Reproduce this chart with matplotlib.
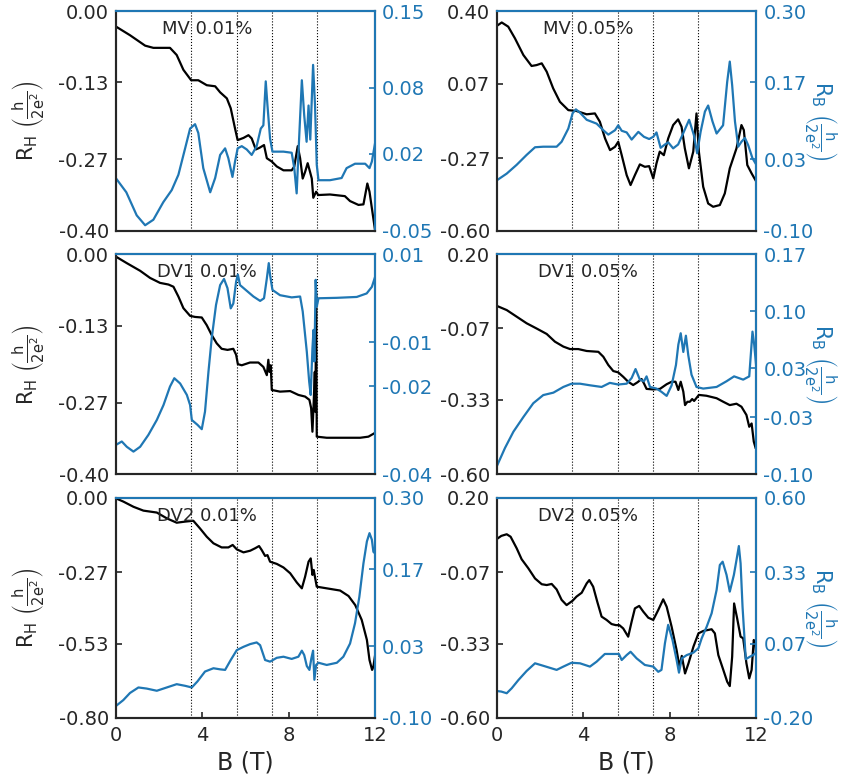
import numpy as np
import matplotlib
matplotlib.use("Agg")
import matplotlib.pyplot as plt

plt.rcParams["font.family"] = ["DejaVu Sans"]
plt.rcParams["mathtext.default"] = "regular"
plt.rcParams["axes.unicode_minus"] = False

BLUE = "#1f77b4"
DARK = "#262626"

# Field positions of the dotted guide lines (T)
guide_fields = [3.47, 5.62, 7.22, 9.30]

# ---- Hall resistance R_H (B [T], value) ----
mv001_rh = [(0.00, -0.028), (0.66, -0.044), (1.36, -0.063), (1.74, -0.067), (2.51, -0.067),
            (2.82, -0.080), (3.13, -0.107), (3.49, -0.126), (3.82, -0.126), (4.21, -0.135),
            (4.60, -0.137), (4.83, -0.148), (5.14, -0.159), (5.32, -0.177), (5.52, -0.214),
            (5.64, -0.235), (5.91, -0.231), (6.14, -0.226), (6.29, -0.232), (6.48, -0.252),
            (6.65, -0.249), (6.86, -0.244), (6.99, -0.268), (7.22, -0.274), (7.45, -0.283),
            (7.76, -0.290), (8.14, -0.290), (8.26, -0.283), (8.42, -0.246), (8.53, -0.268),
            (8.65, -0.305), (8.76, -0.293), (8.88, -0.277), (8.99, -0.293), (9.07, -0.305),
            (9.14, -0.340), (9.27, -0.329), (9.37, -0.335), (9.91, -0.334), (10.60, -0.337),
            (10.84, -0.346), (11.23, -0.353), (11.46, -0.352), (11.64, -0.314), (11.74, -0.329),
            (12.00, -0.400)]
mv005_rh = [(0.00, 0.333), (0.22, 0.348), (0.52, 0.329), (0.83, 0.276), (1.22, 0.200),
            (1.60, 0.150), (1.83, 0.154), (2.07, 0.162), (2.30, 0.124), (2.60, 0.048),
            (2.91, -0.013), (3.30, -0.051), (3.68, -0.055), (4.15, -0.070), (4.53, -0.066),
            (4.76, -0.104), (5.00, -0.180), (5.23, -0.233), (5.46, -0.218), (5.61, -0.195),
            (5.77, -0.256), (6.00, -0.347), (6.18, -0.392), (6.38, -0.347), (6.61, -0.298),
            (6.84, -0.309), (7.04, -0.306), (7.23, -0.362), (7.38, -0.293), (7.53, -0.240),
            (7.72, -0.256), (7.92, -0.180), (8.15, -0.119), (8.38, -0.093), (8.54, -0.127),
            (8.69, -0.225), (8.88, -0.316), (9.08, -0.240), (9.23, -0.066), (9.34, -0.240),
            (9.54, -0.400), (9.77, -0.476), (10.00, -0.491), (10.31, -0.483), (10.54, -0.430),
            (10.77, -0.316), (11.08, -0.225), (11.31, -0.119), (11.42, -0.142), (11.58, -0.301),
            (11.78, -0.339), (12.00, -0.377)]
dv1001_rh = [(0.00, -0.004), (0.51, -0.016), (1.13, -0.030), (1.59, -0.043), (2.05, -0.052),
             (2.44, -0.055), (2.67, -0.059), (2.90, -0.077), (3.13, -0.098), (3.44, -0.112),
             (3.67, -0.114), (3.98, -0.115), (4.21, -0.129), (4.44, -0.147), (4.67, -0.162),
             (4.90, -0.172), (5.17, -0.174), (5.44, -0.172), (5.57, -0.183), (5.65, -0.200),
             (5.83, -0.202), (6.21, -0.197), (6.60, -0.197), (6.83, -0.205), (6.99, -0.220),
             (7.06, -0.192), (7.11, -0.214), (7.17, -0.202), (7.22, -0.247), (7.60, -0.250),
             (8.07, -0.249), (8.45, -0.256), (8.76, -0.259), (8.96, -0.265), (9.04, -0.280),
             (9.10, -0.323), (9.16, -0.268), (9.21, -0.214), (9.24, -0.287), (9.27, -0.071),
             (9.30, -0.332), (9.76, -0.334), (10.53, -0.334), (11.31, -0.334), (11.69, -0.332),
             (12.00, -0.325)]
dv1005_rh = [(0.00, 0.012), (0.45, -0.003), (0.91, -0.027), (1.37, -0.051), (1.83, -0.070),
             (2.30, -0.090), (2.68, -0.118), (3.07, -0.136), (3.38, -0.145), (3.76, -0.145),
             (4.15, -0.152), (4.69, -0.155), (4.92, -0.173), (5.15, -0.203), (5.38, -0.225),
             (5.61, -0.230), (5.84, -0.246), (6.07, -0.264), (6.30, -0.276), (6.50, -0.266),
             (6.69, -0.254), (6.80, -0.270), (6.92, -0.290), (7.23, -0.292), (7.54, -0.290),
             (7.85, -0.273), (8.08, -0.264), (8.26, -0.264), (8.39, -0.294), (8.50, -0.264),
             (8.62, -0.300), (8.70, -0.349), (8.81, -0.337), (8.92, -0.337), (9.03, -0.327),
             (9.12, -0.334), (9.34, -0.312), (9.69, -0.315), (10.16, -0.324), (10.47, -0.337),
             (10.77, -0.349), (11.08, -0.344), (11.31, -0.355), (11.54, -0.385), (11.67, -0.428),
             (11.78, -0.416), (11.88, -0.482), (11.96, -0.504)]
dv2001_rh = [(0.00, -0.001), (0.35, -0.013), (0.82, -0.032), (1.28, -0.046), (1.90, -0.053),
             (2.36, -0.074), (2.82, -0.090), (3.21, -0.086), (3.59, -0.083), (3.90, -0.111),
             (4.21, -0.141), (4.52, -0.165), (4.90, -0.180), (5.21, -0.180), (5.41, -0.171),
             (5.60, -0.187), (5.91, -0.198), (6.22, -0.192), (6.45, -0.183), (6.63, -0.175),
             (6.75, -0.189), (6.91, -0.211), (7.02, -0.208), (7.14, -0.232), (7.45, -0.240),
             (7.76, -0.253), (8.07, -0.274), (8.38, -0.308), (8.61, -0.329), (8.76, -0.287),
             (8.92, -0.232), (9.02, -0.220), (9.10, -0.280), (9.16, -0.262), (9.22, -0.289),
             (9.30, -0.323), (9.76, -0.329), (10.38, -0.337), (10.77, -0.357), (11.08, -0.390),
             (11.38, -0.444), (11.62, -0.517), (11.74, -0.590), (11.86, -0.626), (11.92, -0.614),
             (12.00, -0.572)]
dv2005_rh = [(0.00, 0.051), (0.20, 0.062), (0.45, 0.068), (0.63, 0.059), (0.91, 0.017),
             (1.14, -0.023), (1.45, -0.056), (1.76, -0.093), (2.07, -0.114), (2.30, -0.117),
             (2.53, -0.113), (2.76, -0.133), (2.99, -0.171), (3.22, -0.190), (3.50, -0.174),
             (3.68, -0.159), (3.92, -0.145), (4.15, -0.111), (4.27, -0.099), (4.45, -0.123),
             (4.64, -0.178), (4.84, -0.232), (5.07, -0.244), (5.30, -0.259), (5.50, -0.263),
             (5.66, -0.263), (5.84, -0.275), (6.07, -0.305), (6.23, -0.250), (6.38, -0.202),
             (6.58, -0.193), (6.77, -0.214), (7.00, -0.236), (7.23, -0.244), (7.46, -0.208),
             (7.69, -0.169), (7.85, -0.196), (8.08, -0.269), (8.31, -0.354), (8.44, -0.414),
             (8.55, -0.375), (8.70, -0.439), (8.86, -0.402), (9.09, -0.341), (9.32, -0.293),
             (9.55, -0.284), (9.93, -0.278), (10.08, -0.293), (10.24, -0.372), (10.47, -0.426),
             (10.65, -0.469), (10.77, -0.485), (10.88, -0.378), (10.97, -0.184), (11.11, -0.238),
             (11.27, -0.305), (11.39, -0.311), (11.54, -0.402), (11.67, -0.457), (11.78, -0.426),
             (11.88, -0.317), (11.96, -0.332), (12.00, -0.402)]

# ---- Bulk resistance R_B (B [T], value) ----
mv001_rb = [(0.00, -0.002), (0.49, -0.015), (0.97, -0.036), (1.36, -0.045), (1.74, -0.040),
            (2.20, -0.024), (2.59, -0.013), (2.90, 0.001), (3.21, 0.025), (3.44, 0.043),
            (3.67, 0.047), (3.82, 0.039), (4.05, 0.007), (4.37, -0.015), (4.60, -0.002),
            (4.83, 0.019), (5.06, 0.025), (5.21, 0.016), (5.40, -0.001), (5.52, 0.013),
            (5.64, 0.025), (5.83, 0.027), (6.06, 0.024), (6.29, 0.019), (6.52, 0.027),
            (6.71, 0.043), (6.83, 0.046), (6.94, 0.086), (7.02, 0.064), (7.14, 0.034),
            (7.25, 0.022), (7.76, 0.022), (8.14, 0.021), (8.26, 0.007), (8.37, -0.016),
            (8.47, 0.028), (8.61, 0.087), (8.72, 0.055), (8.83, 0.031), (8.92, 0.064),
            (9.00, 0.033), (9.13, 0.101), (9.22, 0.064), (9.30, 0.010), (9.38, -0.004),
            (9.91, -0.004), (10.45, -0.002), (10.68, 0.007), (11.07, 0.011), (11.54, 0.011),
            (11.74, 0.007), (11.85, 0.013), (12.00, 0.030)]
mv005_rb = [(0.00, -0.008), (0.45, 0.004), (0.91, 0.020), (1.37, 0.038), (1.76, 0.052),
            (2.14, 0.053), (2.76, 0.053), (2.99, 0.062), (3.30, 0.086), (3.50, 0.114),
            (3.65, 0.121), (3.84, 0.115), (4.15, 0.102), (4.61, 0.095), (4.92, 0.083),
            (5.15, 0.075), (5.46, 0.083), (5.61, 0.092), (5.77, 0.082), (6.00, 0.079),
            (6.23, 0.066), (6.54, 0.080), (6.80, 0.071), (7.04, 0.067), (7.23, 0.071),
            (7.38, 0.079), (7.57, 0.051), (7.77, 0.057), (7.92, 0.061), (8.15, 0.050),
            (8.38, 0.057), (8.61, 0.077), (8.89, 0.102), (9.11, 0.074), (9.26, 0.041),
            (9.42, 0.080), (9.62, 0.117), (9.77, 0.128), (9.97, 0.099), (10.16, 0.077),
            (10.46, 0.092), (10.65, 0.171), (10.77, 0.208), (10.88, 0.165), (11.01, 0.099),
            (11.16, 0.053), (11.31, 0.062), (11.47, 0.069), (11.62, 0.056), (11.82, 0.032),
            (12.00, 0.020)]
dv1001_rb = [(0.00, -0.0334), (0.28, -0.0326), (0.51, -0.0338), (0.82, -0.0349), (1.13, -0.0338),
             (1.51, -0.0311), (1.90, -0.0277), (2.21, -0.0243), (2.51, -0.0201), (2.71, -0.0182),
             (2.98, -0.0194), (3.29, -0.0220), (3.44, -0.0243), (3.52, -0.0277), (3.78, -0.0288),
             (3.98, -0.0298), (4.13, -0.0258), (4.29, -0.0167), (4.44, -0.0091), (4.64, -0.0015),
             (4.83, 0.0030), (5.01, 0.0044), (5.17, 0.0023), (5.32, -0.0023), (5.44, -0.0012),
             (5.57, 0.0038), (5.65, 0.0054), (5.75, 0.0030), (6.06, 0.0017), (6.37, 0.0004),
             (6.68, -0.0006), (6.86, 0.0000), (6.99, 0.0045), (7.08, 0.0080), (7.14, 0.0053),
             (7.25, 0.0019), (7.60, 0.0007), (8.14, 0.0002), (8.53, 0.0004), (8.65, -0.0030),
             (8.84, -0.0122), (8.95, -0.0190), (9.02, -0.0220), (9.10, -0.0114), (9.15, -0.0072),
             (9.19, -0.0144), (9.25, 0.0042), (9.30, -0.0019), (9.38, 0.0000), (10.23, 0.0001),
             (11.15, 0.0003), (11.61, 0.0011), (11.85, 0.0026), (12.00, 0.0049)]
dv1005_rb = [(0.00, -0.090), (0.37, -0.068), (0.76, -0.048), (1.22, -0.030), (1.68, -0.013),
             (2.14, -0.003), (2.61, 0.000), (3.07, 0.007), (3.45, 0.011), (3.84, 0.011),
             (4.31, 0.009), (4.84, 0.007), (5.22, 0.012), (5.61, 0.010), (6.00, 0.011),
             (6.23, 0.018), (6.41, 0.029), (6.61, 0.016), (6.80, 0.014), (6.92, 0.020),
             (7.08, 0.007), (7.38, 0.005), (7.61, 0.001), (7.85, -0.004), (8.08, 0.009),
             (8.28, 0.034), (8.39, 0.059), (8.50, 0.073), (8.62, 0.050), (8.74, 0.070),
             (8.85, 0.046), (9.00, 0.022), (9.23, 0.007), (9.54, 0.005), (10.16, 0.007),
             (10.62, 0.014), (10.97, 0.020), (11.39, 0.016), (11.67, 0.020), (11.82, 0.075),
             (11.90, 0.059), (12.00, 0.030)]
dv2001_rb = [(0.00, -0.079), (0.35, -0.068), (0.66, -0.055), (1.05, -0.045), (1.43, -0.047),
             (1.90, -0.051), (2.36, -0.045), (2.82, -0.039), (3.21, -0.042), (3.52, -0.045),
             (3.78, -0.034), (4.13, -0.016), (4.52, -0.010), (4.83, -0.012), (5.06, -0.013),
             (5.32, 0.005), (5.60, 0.023), (5.91, 0.029), (6.22, 0.034), (6.52, 0.037),
             (6.68, 0.032), (6.91, 0.005), (7.14, 0.002), (7.45, 0.009), (7.76, 0.011),
             (8.14, 0.007), (8.45, 0.011), (8.61, 0.022), (8.72, 0.014), (8.84, -0.006),
             (8.96, -0.013), (9.05, 0.008), (9.13, 0.022), (9.19, -0.031), (9.27, -0.004),
             (9.38, 0.000), (9.76, -0.004), (10.23, 0.000), (10.53, 0.011), (10.84, 0.035),
             (11.07, 0.072), (11.27, 0.120), (11.46, 0.181), (11.62, 0.221), (11.74, 0.236),
             (11.85, 0.224), (11.92, 0.202), (12.00, 0.199)]
dv2005_rb = [(0.00, -0.103), (0.20, -0.105), (0.45, -0.111), (0.68, -0.093), (0.99, -0.063),
             (1.37, -0.030), (1.76, -0.002), (2.14, -0.011), (2.76, -0.026), (3.07, -0.014),
             (3.45, 0.000), (3.84, -0.002), (4.30, -0.014), (4.61, 0.004), (4.99, 0.032),
             (5.38, 0.032), (5.64, 0.032), (5.77, 0.010), (6.00, 0.028), (6.18, 0.040),
             (6.46, 0.016), (6.84, -0.008), (7.23, -0.014), (7.46, -0.033), (7.61, -0.026),
             (7.77, 0.071), (7.92, 0.138), (8.12, 0.083), (8.31, 0.010), (8.42, -0.036),
             (8.55, 0.016), (8.78, 0.028), (9.09, 0.037), (9.32, 0.053), (9.47, 0.089),
             (9.70, 0.131), (9.93, 0.180), (10.16, 0.265), (10.31, 0.356), (10.44, 0.368),
             (10.62, 0.320), (10.77, 0.259), (10.96, 0.320), (11.08, 0.374), (11.19, 0.425),
             (11.27, 0.362), (11.36, 0.204), (11.51, 0.013), (11.70, 0.022), (11.85, 0.028),
             (12.00, 0.037)]

# ---- Panel labels, axis limits and tick values ----
panel_labels = ["MV 0.01%", "MV 0.05%", "DV1 0.01%", "DV1 0.05%", "DV2 0.01%", "DV2 0.05%"]
rh_series = [mv001_rh, mv005_rh, dv1001_rh, dv1005_rh, dv2001_rh, dv2005_rh]
rb_series = [mv001_rb, mv005_rb, dv1001_rb, dv1005_rb, dv2001_rb, dv2005_rb]
rh_limits = [(-0.40, 0.00), (-0.60, 0.40), (-0.40, 0.00), (-0.60, 0.20), (-0.80, 0.00), (-0.60, 0.20)]
rb_limits = [(-0.05, 0.15), (-0.10, 0.30), (-0.04, 0.01), (-0.10, 0.17), (-0.10, 0.30), (-0.20, 0.60)]
rh_ticks = [[-0.40, -0.27, -0.13, 0.00], [-0.60, -0.27, 0.07, 0.40],
            [-0.40, -0.27, -0.13, 0.00], [-0.60, -0.33, -0.07, 0.20],
            [-0.80, -0.53, -0.27, 0.00], [-0.60, -0.33, -0.07, 0.20]]
rb_ticks = [[-0.05, 0.02, 0.08, 0.15], [-0.10, 0.03, 0.17, 0.30],
            [-0.04, -0.02, -0.01, 0.01], [-0.10, -0.03, 0.03, 0.10, 0.17],
            [-0.10, 0.03, 0.17, 0.30], [-0.20, 0.07, 0.33, 0.60]]
b_ticks = [0, 4, 8, 12]

fig = plt.figure(figsize=(8.51, 7.84), dpi=100)

col_left = [0.1360, 0.5840]
col_width = 0.3048
row_bottom = [0.7057, 0.3954, 0.0846]
row_height = 0.2802

ylab_h = r"$R_H\ \left(\frac{h}{2e^2}\right)$"
ylab_b = r"$R_B\ \left(\frac{h}{2e^2}\right)$"

for i in range(6):
    row, col = divmod(i, 2)
    ax = fig.add_axes([col_left[col], row_bottom[row], col_width, row_height])
    ax2 = ax.twinx()

    for bf in guide_fields:
        ax.axvline(bf, color="black", linestyle=":", linewidth=0.8, zorder=1)

    bh, vh = np.array(rh_series[i]).T
    ax.plot(bh, vh, color="black", linewidth=1.6, zorder=3)
    bb, vb = np.array(rb_series[i]).T
    ax2.plot(bb, vb, color=BLUE, linewidth=1.6)

    ax.set_xlim(0, 12)
    ax.set_ylim(*rh_limits[i])
    ax2.set_ylim(*rb_limits[i])

    ax.set_yticks(rh_ticks[i])
    ax.set_yticklabels(["%.2f" % t for t in rh_ticks[i]])
    ax2.set_yticks(rb_ticks[i])
    ax2.set_yticklabels(["%.2f" % t for t in rb_ticks[i]])

    ax.tick_params(axis="y", direction="in", length=4, width=1.2, colors=DARK,
                   labelsize=14, pad=5)
    ax2.tick_params(axis="y", direction="in", length=4, width=1.2, colors=BLUE,
                    labelsize=14, pad=5)

    if row == 2:
        ax.set_xticks(b_ticks)
        ax.set_xticklabels([str(t) for t in b_ticks])
        ax.tick_params(axis="x", direction="in", length=4, width=1.2, colors=DARK,
                       labelsize=14, pad=6)
        ax.set_xlabel("B (T)", fontsize=17, color=DARK, labelpad=4)
    else:
        ax.set_xticks(b_ticks)
        ax.tick_params(axis="x", bottom=False, labelbottom=False)

    for sp in ax.spines.values():
        sp.set_linewidth(1.5)
        sp.set_color(DARK)
    for name, sp in ax2.spines.items():
        sp.set_linewidth(1.5)
        sp.set_color(BLUE if name in ("right", "top") else DARK)

    if col == 0:
        ax.set_ylabel(ylab_h, fontsize=15, color=DARK, labelpad=8)
    else:
        ax2.set_ylabel(ylab_b, fontsize=15, color=BLUE, rotation=270, labelpad=18)

    ax.text(0.352, 0.92, panel_labels[i], transform=ax.transAxes, ha="center",
            va="center", fontsize=13, color=DARK, zorder=5)

fig.savefig("out.png", dpi=100)
